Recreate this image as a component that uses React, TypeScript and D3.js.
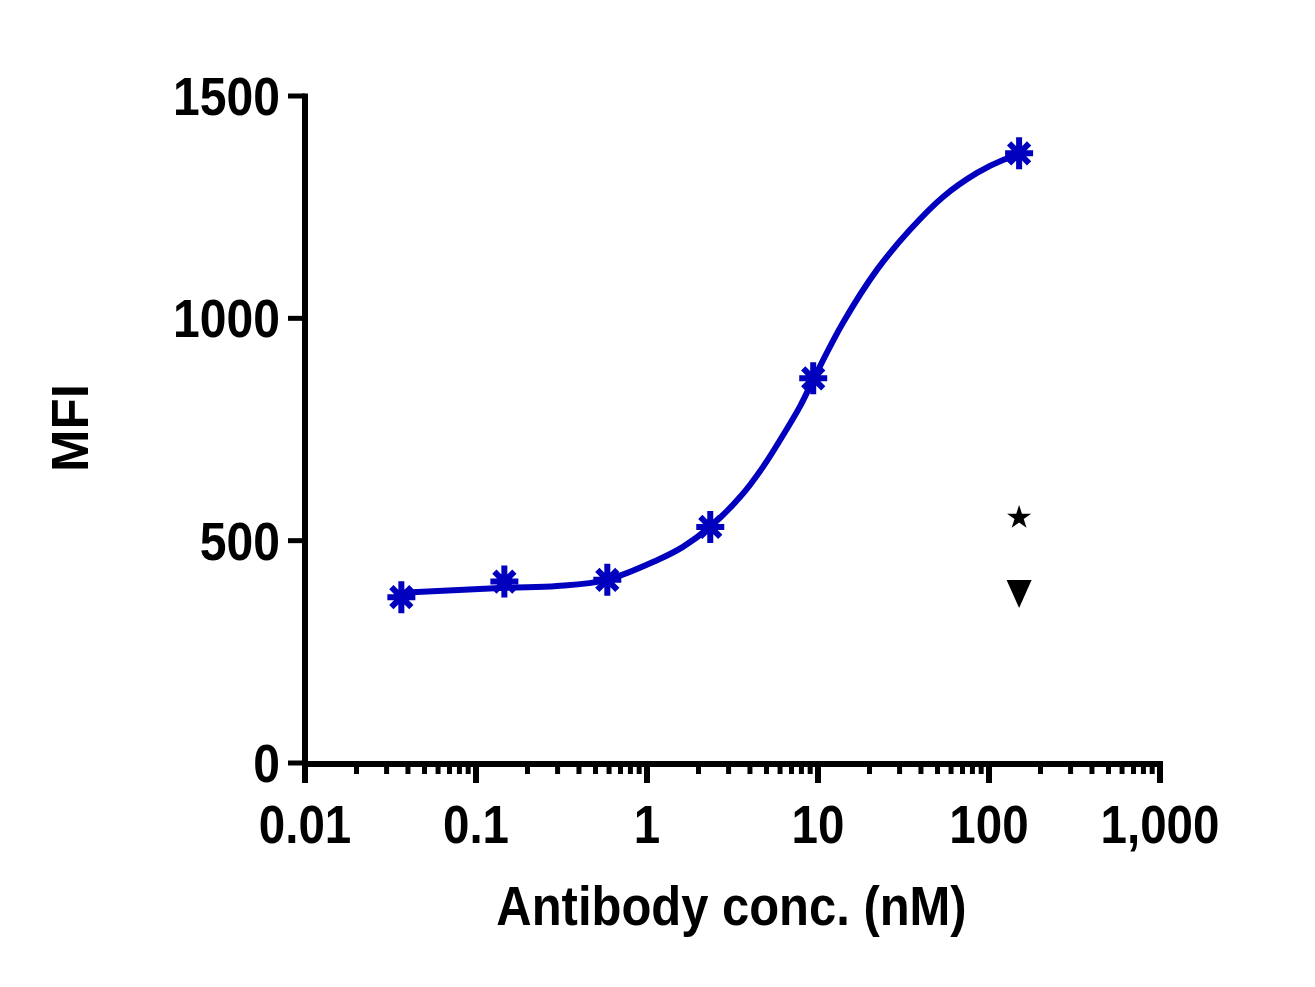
import React from 'react';
import * as d3 from 'd3';

// measured antibody binding (blue series)
const concentrations = [0.0366, 0.1465, 0.586, 2.344, 9.375, 150];
const mfiValues = [373, 408, 412, 531, 865, 1371];

// fitted curve
const fitConc = [0.0366, 0.148, 0.298, 0.583, 1.144, 1.623, 2.335, 3.5, 4.77, 6.24, 7.85, 9.35, 14.0, 22.1, 34.5, 53.8, 85.1, 120.8, 150];
const fitMfi = [383, 394, 398, 412, 456, 486, 531, 598, 666, 737, 802, 861, 990, 1109, 1199, 1273, 1327, 1356, 1367];

// controls at top concentration
const controlConc = [150];
const starMfi = [552];
const triangleMfi = [380];

const yTicks = [0, 500, 1000, 1500];
const yTickLabels = ['0', '500', '1000', '1500'];
const xTicks = [0.01, 0.1, 1, 10, 100, 1000];
const xTickLabels = ['0.01', '0.1', '1', '10', '100', '1,000'];

const BLUE = '#0000BE';
const FONT = '"Liberation Sans", Arial, sans-serif';

export default function App() {
  const width = 1315;
  const height = 987;

  const xScale = d3.scaleLog().domain([0.01, 1000]).range([305, 1160]);
  const yScale = d3.scaleLinear().domain([0, 1500]).range([763, 96]);

  const y0 = yScale(0);

  // minor ticks 2..9 of every decade
  const minorTicks: number[] = [];
  xTicks.slice(0, -1).forEach((d) => {
    for (let k = 2; k <= 9; k++) minorTicks.push(d * k);
  });

  const line = d3
    .line<number>()
    .x((_, i) => xScale(fitConc[i]))
    .y((d) => yScale(d))
    .curve(d3.curveCatmullRom.alpha(0.5));

  const asterisk = 'M0,-16V16M-14,0H14M-10,-10L10,10M-10,10L10,-10';
  const star = d3.symbol().type(d3.symbolStar).size(180)();
  const triangleDown = 'M-12.5,-14L12.5,-14L0,14Z';

  return (
    <svg
      width={width}
      height={height}
      style={{ position: 'absolute', left: 0, top: 0, background: '#fff' }}
    >
      {/* fitted curve */}
      <path d={line(fitMfi) || ''} fill="none" stroke={BLUE} strokeWidth={6} />

      {/* data markers */}
      {concentrations.map((c, i) => (
        <path
          key={'a' + i}
          d={asterisk}
          transform={`translate(${xScale(c)},${yScale(mfiValues[i])})`}
          fill="none"
          stroke={BLUE}
          strokeWidth={6}
        />
      ))}
      {controlConc.map((c, i) => (
        <path key={'s' + i} d={star || ''} transform={`translate(${xScale(c)},${yScale(starMfi[i])})`} fill="#000" />
      ))}
      {controlConc.map((c, i) => (
        <path key={'t' + i} d={triangleDown} transform={`translate(${xScale(c)},${yScale(triangleMfi[i])})`} fill="#000" />
      ))}

      {/* y axis */}
      <line x1={305} x2={305} y1={yScale(1500) - 2.5} y2={783} stroke="#000" strokeWidth={6} />
      {yTicks.map((t, i) => (
        <g key={'yt' + i}>
          <line x1={288} x2={305} y1={yScale(t)} y2={yScale(t)} stroke="#000" strokeWidth={5} />
          <text
            transform={`translate(280,${yScale(t) + 19}) scale(0.89,1)`}
            textAnchor="end"
            fontFamily={FONT}
            fontWeight="bold"
            fontSize={54}
          >
            {yTickLabels[i]}
          </text>
        </g>
      ))}

      {/* x axis */}
      <line x1={302} x2={1163} y1={y0 + 1} y2={y0 + 1} stroke="#000" strokeWidth={6} />
      {minorTicks.map((t, i) => (
        <line key={'mt' + i} x1={xScale(t)} x2={xScale(t)} y1={y0} y2={774} stroke="#000" strokeWidth={5} />
      ))}
      {xTicks.map((t, i) => (
        <g key={'xt' + i}>
          <line x1={xScale(t)} x2={xScale(t)} y1={y0} y2={783} stroke="#000" strokeWidth={6} />
          <text
            transform={`translate(${xScale(t)},843) scale(0.88,1)`}
            textAnchor="middle"
            fontFamily={FONT}
            fontWeight="bold"
            fontSize={54}
          >
            {xTickLabels[i]}
          </text>
        </g>
      ))}

      {/* axis titles */}
      <text
        transform="translate(731.5,925) scale(0.89,1)"
        textAnchor="middle"
        fontFamily={FONT}
        fontWeight="bold"
        fontSize={55}
      >
        Antibody conc. (nM)
      </text>
      <text
        transform="translate(88,428) rotate(-90)"
        textAnchor="middle"
        fontFamily={FONT}
        fontWeight="bold"
        fontSize={51}
      >
        MFI
      </text>
    </svg>
  );
}
